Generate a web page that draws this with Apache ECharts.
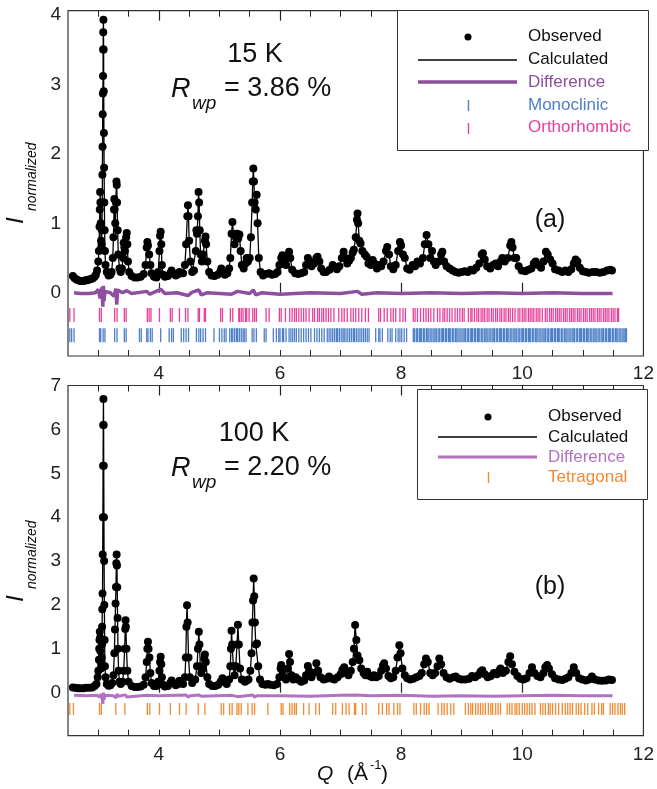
<!DOCTYPE html>
<html><head><meta charset="utf-8">
<script src="https://cdn.jsdelivr.net/npm/echarts@6/dist/echarts.min.js"></script>
<style>html,body{margin:0;padding:0;background:#fff}#c{width:657px;height:789px}</style>
</head><body><div id="c"></div>
<script>
// ---------- DATA ----------
const obs15 = [[2.58,0.24],[2.61,0.21],[2.64,0.19],[2.67,0.18],[2.70,0.17],[2.73,0.17],[2.76,0.17],[2.79,0.18],[2.82,0.18],[2.85,0.19],[2.88,0.2],[2.91,0.21],[2.94,0.23],[2.96,0.26],[2.98,0.32],[3.0,0.45],[3.01,0.6],[3.02,0.95],[3.025,1.2],[3.03,1.45],[3.035,1.3],[3.04,1.0],[3.045,0.75],[3.05,0.65],[3.055,0.7],[3.06,0.9],[3.065,1.3],[3.068,1.7],[3.07,2.1],[3.073,2.57],[3.076,2.87],[3.078,3.12],[3.08,3.5],[3.082,3.75],[3.085,3.93],[3.088,3.5],[3.09,2.9],[3.093,2.3],[3.096,1.8],[3.1,1.3],[3.105,0.9],[3.11,0.6],[3.12,0.4],[3.14,0.3],[3.17,0.25],[3.2,0.26],[3.22,0.3],[3.24,0.5],[3.25,0.8],[3.26,1.2],[3.265,1.35],[3.27,1.2],[3.28,1.0],[3.29,1.3],[3.3,1.6],[3.305,1.55],[3.31,1.3],[3.32,0.9],[3.33,0.55],[3.35,0.35],[3.37,0.3],[3.39,0.35],[3.41,0.5],[3.42,0.72],[3.43,0.65],[3.44,0.6],[3.46,0.8],[3.47,0.86],[3.48,0.7],[3.49,0.45],[3.51,0.3],[3.55,0.24],[3.6,0.22],[3.65,0.22],[3.7,0.23],[3.75,0.27],[3.78,0.4],[3.8,0.65],[3.81,0.73],[3.82,0.68],[3.84,0.55],[3.86,0.4],[3.88,0.28],[3.92,0.23],[3.96,0.22],[3.99,0.3],[4.01,0.6],[4.02,0.82],[4.03,0.88],[4.04,0.7],[4.05,0.4],[4.07,0.26],[4.1,0.23],[4.15,0.24],[4.19,0.28],[4.21,0.32],[4.23,0.28],[4.28,0.25],[4.32,0.27],[4.34,0.3],[4.36,0.28],[4.4,0.28],[4.43,0.4],[4.45,0.7],[4.47,1.1],[4.48,1.26],[4.49,1.1],[4.5,0.75],[4.52,0.45],[4.55,0.3],[4.58,0.32],[4.61,0.6],[4.62,0.9],[4.63,0.85],[4.645,1.1],[4.655,1.45],[4.665,1.3],[4.675,0.9],[4.69,0.55],[4.71,0.45],[4.73,0.55],[4.76,0.75],[4.77,0.81],[4.78,0.7],[4.8,0.45],[4.83,0.3],[4.87,0.25],[4.92,0.24],[4.97,0.26],[5.01,0.3],[5.03,0.35],[5.05,0.3],[5.09,0.26],[5.13,0.28],[5.16,0.35],[5.18,0.5],[5.2,0.85],[5.215,1.02],[5.23,0.85],[5.25,0.7],[5.27,0.8],[5.29,0.85],[5.31,0.78],[5.33,0.84],[5.35,0.6],[5.37,0.4],[5.4,0.35],[5.43,0.42],[5.45,0.5],[5.47,0.45],[5.5,0.5],[5.52,0.8],[5.54,1.3],[5.55,1.6],[5.56,1.79],[5.57,1.6],[5.58,1.3],[5.6,1.2],[5.615,1.41],[5.63,1.0],[5.65,0.5],[5.68,0.3],[5.72,0.25],[5.77,0.27],[5.82,0.28],[5.87,0.26],[5.92,0.27],[5.96,0.3],[5.99,0.4],[6.02,0.5],[6.04,0.54],[6.07,0.45],[6.1,0.4],[6.13,0.5],[6.15,0.59],[6.17,0.5],[6.2,0.33],[6.25,0.28],[6.3,0.27],[6.35,0.28],[6.4,0.3],[6.43,0.4],[6.46,0.5],[6.49,0.45],[6.52,0.38],[6.56,0.42],[6.6,0.5],[6.62,0.52],[6.65,0.45],[6.68,0.35],[6.72,0.3],[6.76,0.3],[6.82,0.33],[6.87,0.4],[6.9,0.37],[6.94,0.34],[6.98,0.38],[7.02,0.5],[7.05,0.59],[7.08,0.5],[7.11,0.42],[7.14,0.46],[7.17,0.5],[7.2,0.58],[7.22,0.62],[7.25,0.8],[7.27,1.05],[7.28,1.14],[7.29,1.0],[7.31,0.75],[7.33,0.71],[7.36,0.6],[7.4,0.55],[7.43,0.52],[7.46,0.42],[7.5,0.4],[7.53,0.47],[7.56,0.42],[7.6,0.35],[7.64,0.4],[7.67,0.38],[7.71,0.45],[7.75,0.6],[7.77,0.66],[7.8,0.55],[7.83,0.38],[7.87,0.34],[7.91,0.4],[7.95,0.6],[7.98,0.73],[8.0,0.68],[8.03,0.55],[8.06,0.5],[8.1,0.35],[8.14,0.33],[8.19,0.4],[8.23,0.38],[8.27,0.45],[8.31,0.42],[8.36,0.5],[8.39,0.7],[8.42,0.83],[8.45,0.7],[8.48,0.5],[8.51,0.6],[8.54,0.45],[8.57,0.4],[8.62,0.45],[8.66,0.55],[8.68,0.59],[8.71,0.45],[8.75,0.38],[8.8,0.35],[8.85,0.32],[8.9,0.3],[8.95,0.29],[9.0,0.3],[9.05,0.31],[9.1,0.3],[9.15,0.33],[9.19,0.32],[9.24,0.36],[9.29,0.42],[9.33,0.55],[9.35,0.57],[9.38,0.48],[9.42,0.38],[9.47,0.35],[9.52,0.4],[9.56,0.42],[9.6,0.38],[9.64,0.45],[9.67,0.5],[9.71,0.45],[9.76,0.5],[9.8,0.68],[9.82,0.73],[9.84,0.65],[9.87,0.5],[9.9,0.5],[9.94,0.38],[9.99,0.32],[10.05,0.31],[10.1,0.33],[10.15,0.35],[10.19,0.42],[10.22,0.45],[10.26,0.4],[10.31,0.36],[10.35,0.45],[10.39,0.59],[10.42,0.55],[10.46,0.48],[10.5,0.42],[10.54,0.34],[10.6,0.32],[10.66,0.3],[10.71,0.32],[10.76,0.3],[10.81,0.34],[10.85,0.42],[10.88,0.48],[10.91,0.45],[10.95,0.36],[11.0,0.31],[11.05,0.3],[11.1,0.29],[11.16,0.3],[11.22,0.3],[11.28,0.29],[11.34,0.3],[11.4,0.32],[11.45,0.33],[11.48,0.32]];
const calc15 = obs15;
const diff15 = [[2.6,0.0],[2.7,-0.01],[2.85,-0.01],[2.95,0.0],[3.0,0.05],[3.03,-0.08],[3.06,0.08],[3.075,-0.2],[3.085,0.1],[3.095,-0.12],[3.11,0.02],[3.2,0.0],[3.26,-0.05],[3.29,0.06],[3.305,-0.17],[3.32,0.04],[3.4,0.0],[3.47,0.03],[3.55,-0.01],[3.8,0.02],[3.85,-0.02],[4.03,0.05],[4.1,-0.01],[4.3,0.0],[4.48,-0.04],[4.55,0.01],[4.66,0.04],[4.7,-0.03],[4.8,0.0],[5.2,-0.02],[5.3,0.02],[5.5,-0.01],[5.56,0.04],[5.6,-0.03],[5.7,0.0],[6.0,-0.02],[6.5,0.0],[7.0,-0.01],[7.28,0.02],[7.35,-0.02],[7.6,0.0],[8.0,-0.01],[8.5,0.0],[9.0,-0.01],[9.5,0.0],[10.0,-0.01],[10.5,0.0],[11.0,-0.01],[11.49,-0.01]];
const orthorhombic15 = [2.53,2.60,3.02,3.05,3.27,3.31,3.43,3.46,3.81,3.84,3.87,4.01,4.19,4.22,4.34,4.44,4.48,4.65,4.67,4.75,4.77,5.02,5.05,5.18,5.22,5.32,5.33,5.36,5.39,5.43,5.45,5.49,5.55,5.58,5.61,5.77,5.82,5.99,6.02,6.09,6.16,6.20,6.24,6.27,6.31,6.35,6.39,6.43,6.48,6.54,6.57,6.62,6.65,6.69,6.72,6.76,6.80,6.84,6.89,6.97,7.02,7.06,7.11,7.17,7.21,7.25,7.30,7.35,7.41,7.46,7.63,7.66,7.72,7.77,7.83,7.87,7.91,7.98,8.03,8.07,8.20,8.23,8.27,8.32,8.37,8.41,8.45,8.49,8.54,8.60,8.64,8.69,8.72,8.76,8.80,8.84,8.89,8.93,8.97,9.01,9.04,9.11,9.15,9.17,9.21,9.25,9.28,9.32,9.35,9.38,9.42,9.45,9.49,9.52,9.56,9.59,9.63,9.66,9.70,9.73,9.77,9.80,9.84,9.88,9.93,9.96,10.00,10.03,10.06,10.10,10.13,10.16,10.19,10.23,10.26,10.29,10.33,10.38,10.41,10.45,10.48,10.51,10.55,10.58,10.61,10.64,10.68,10.71,10.74,10.78,10.81,10.84,10.87,10.91,10.94,10.97,11.01,11.04,11.07,11.11,11.14,11.17,11.20,11.24,11.27,11.30,11.34,11.37,11.40,11.43,11.47,11.50,11.53,11.57,11.59];
const monoclinic15 = [2.53,2.56,2.60,3.02,3.04,3.08,3.11,3.27,3.31,3.43,3.46,3.68,3.71,3.80,3.82,3.86,3.89,4.03,4.17,4.21,4.24,4.37,4.41,4.45,4.49,4.62,4.66,4.69,4.73,4.77,4.91,5.00,5.04,5.08,5.11,5.17,5.20,5.22,5.25,5.28,5.30,5.33,5.36,5.39,5.41,5.44,5.54,5.57,5.61,5.74,5.77,5.89,5.94,5.98,6.00,6.04,6.06,6.10,6.15,6.18,6.21,6.24,6.27,6.31,6.35,6.39,6.43,6.47,6.51,6.57,6.61,6.65,6.69,6.73,6.78,6.81,6.84,6.87,6.90,6.93,6.95,6.98,7.01,7.04,7.06,7.09,7.12,7.15,7.18,7.21,7.23,7.26,7.29,7.32,7.35,7.38,7.41,7.44,7.47,7.58,7.63,7.65,7.69,7.78,7.82,7.85,7.91,7.95,7.98,8.01,8.05,8.09,8.20,8.22,8.25,8.27,8.30,8.32,8.34,8.37,8.39,8.42,8.44,8.46,8.49,8.51,8.54,8.56,8.58,8.61,8.63,8.66,8.68,8.70,8.73,8.75,8.78,8.80,8.82,8.85,8.87,8.90,8.92,8.94,8.97,8.99,9.02,9.04,9.06,9.09,9.11,9.14,9.16,9.18,9.21,9.23,9.26,9.28,9.30,9.33,9.35,9.38,9.40,9.42,9.45,9.47,9.50,9.52,9.54,9.57,9.59,9.62,9.64,9.66,9.69,9.71,9.74,9.76,9.78,9.81,9.83,9.86,9.88,9.90,9.93,9.95,9.98,10.00,10.02,10.05,10.07,10.10,10.12,10.14,10.17,10.19,10.22,10.24,10.26,10.29,10.31,10.34,10.36,10.38,10.41,10.43,10.46,10.48,10.50,10.53,10.55,10.58,10.60,10.62,10.65,10.67,10.70,10.72,10.74,10.77,10.79,10.82,10.84,10.86,10.89,10.91,10.94,10.96,10.98,11.01,11.03,11.06,11.08,11.10,11.13,11.15,11.18,11.20,11.22,11.25,11.27,11.30,11.32,11.34,11.37,11.39,11.42,11.44,11.46,11.49,11.51,11.54,11.56,11.58,11.61,11.63,11.66,11.68,11.70,11.72];

const obs100 = [[2.58,0.12],[2.62,0.11],[2.66,0.1],[2.7,0.1],[2.75,0.1],[2.8,0.11],[2.85,0.11],[2.9,0.12],[2.94,0.15],[2.97,0.2],[2.99,0.35],[3.0,0.5],[3.01,0.75],[3.015,1.0],[3.02,1.2],[3.025,1.39],[3.03,1.25],[3.035,0.95],[3.04,0.7],[3.045,0.55],[3.05,0.6],[3.055,0.8],[3.06,1.1],[3.063,1.5],[3.066,1.9],[3.07,2.26],[3.073,3.15],[3.076,4.0],[3.079,5.17],[3.082,6.1],[3.085,6.69],[3.088,6.1],[3.09,5.17],[3.093,4.0],[3.096,3.0],[3.1,2.0],[3.105,1.2],[3.11,0.6],[3.12,0.35],[3.14,0.2],[3.17,0.16],[3.2,0.17],[3.23,0.22],[3.25,0.4],[3.265,0.9],[3.275,1.44],[3.285,2.03],[3.292,2.41],[3.298,2.95],[3.303,3.15],[3.308,2.9],[3.313,2.4],[3.318,1.7],[3.325,1.0],[3.335,0.5],[3.35,0.25],[3.37,0.2],[3.4,0.25],[3.42,0.5],[3.435,1.0],[3.445,1.45],[3.45,1.65],[3.455,1.5],[3.465,1.0],[3.48,0.5],[3.5,0.25],[3.55,0.15],[3.6,0.13],[3.65,0.13],[3.7,0.14],[3.75,0.18],[3.78,0.35],[3.8,0.7],[3.81,1.0],[3.82,1.16],[3.83,1.0],[3.845,0.8],[3.86,0.45],[3.88,0.22],[3.92,0.15],[3.96,0.15],[3.99,0.25],[4.01,0.5],[4.02,0.7],[4.03,0.82],[4.04,0.65],[4.05,0.35],[4.07,0.18],[4.1,0.14],[4.15,0.15],[4.19,0.22],[4.21,0.28],[4.23,0.22],[4.28,0.17],[4.32,0.2],[4.34,0.27],[4.36,0.22],[4.4,0.2],[4.43,0.35],[4.445,0.8],[4.455,1.5],[4.465,1.99],[4.475,1.6],[4.49,0.8],[4.51,0.35],[4.55,0.22],[4.6,0.3],[4.63,0.6],[4.645,1.0],[4.66,1.39],[4.67,1.1],[4.685,0.6],[4.7,0.45],[4.73,0.55],[4.75,0.78],[4.76,0.87],[4.775,0.7],[4.8,0.35],[4.83,0.2],[4.88,0.15],[4.93,0.15],[4.98,0.18],[5.02,0.25],[5.05,0.33],[5.08,0.25],[5.12,0.2],[5.16,0.3],[5.18,0.6],[5.19,1.0],[5.2,1.41],[5.21,1.1],[5.23,0.6],[5.25,0.4],[5.27,0.6],[5.29,1.1],[5.305,1.55],[5.32,1.1],[5.34,0.55],[5.37,0.3],[5.42,0.25],[5.45,0.28],[5.48,0.3],[5.51,0.5],[5.53,0.9],[5.545,1.6],[5.555,2.1],[5.565,2.6],[5.575,2.2],[5.585,1.6],[5.6,1.1],[5.62,1.12],[5.64,0.6],[5.67,0.3],[5.71,0.2],[5.76,0.18],[5.8,0.2],[5.84,0.18],[5.9,0.17],[5.95,0.2],[5.99,0.35],[6.01,0.55],[6.02,0.63],[6.04,0.5],[6.07,0.35],[6.1,0.3],[6.13,0.55],[6.15,0.88],[6.165,0.7],[6.19,0.4],[6.22,0.3],[6.26,0.35],[6.3,0.3],[6.35,0.25],[6.4,0.28],[6.43,0.4],[6.46,0.61],[6.48,0.5],[6.52,0.35],[6.56,0.45],[6.6,0.67],[6.63,0.5],[6.67,0.35],[6.72,0.3],[6.77,0.32],[6.81,0.37],[6.86,0.32],[6.9,0.3],[6.95,0.35],[7.0,0.42],[7.03,0.52],[7.06,0.58],[7.09,0.45],[7.13,0.4],[7.17,0.5],[7.2,0.7],[7.22,1.0],[7.24,1.54],[7.26,1.2],[7.28,0.85],[7.31,0.74],[7.34,0.55],[7.38,0.45],[7.41,0.4],[7.44,0.48],[7.48,0.38],[7.52,0.35],[7.55,0.4],[7.59,0.35],[7.63,0.38],[7.67,0.5],[7.7,0.62],[7.72,0.67],[7.75,0.55],[7.79,0.38],[7.83,0.33],[7.87,0.35],[7.91,0.5],[7.94,0.8],[7.97,1.08],[7.99,0.9],[8.02,0.55],[8.06,0.4],[8.1,0.33],[8.15,0.3],[8.2,0.32],[8.25,0.35],[8.3,0.38],[8.34,0.45],[8.38,0.65],[8.41,0.78],[8.44,0.7],[8.48,0.45],[8.52,0.4],[8.56,0.45],[8.6,0.6],[8.63,0.78],[8.66,0.65],[8.7,0.45],[8.75,0.35],[8.8,0.32],[8.86,0.35],[8.9,0.37],[8.95,0.32],[9.0,0.3],[9.06,0.3],[9.12,0.32],[9.17,0.38],[9.22,0.35],[9.27,0.4],[9.31,0.48],[9.34,0.51],[9.38,0.42],[9.43,0.35],[9.48,0.38],[9.53,0.45],[9.58,0.42],[9.62,0.5],[9.64,0.55],[9.68,0.45],[9.73,0.5],[9.77,0.7],[9.8,0.83],[9.83,0.65],[9.87,0.48],[9.92,0.38],[9.97,0.32],[10.02,0.3],[10.07,0.33],[10.12,0.45],[10.16,0.58],[10.2,0.45],[10.25,0.38],[10.3,0.35],[10.35,0.45],[10.38,0.58],[10.41,0.63],[10.44,0.55],[10.49,0.42],[10.54,0.33],[10.6,0.3],[10.66,0.29],[10.71,0.32],[10.76,0.35],[10.81,0.45],[10.85,0.58],[10.89,0.45],[10.94,0.33],[10.99,0.3],[11.05,0.28],[11.1,0.3],[11.15,0.37],[11.2,0.3],[11.26,0.28],[11.32,0.27],[11.38,0.28],[11.43,0.3],[11.48,0.29]];
const calc100 = obs100;
const diff100 = [[2.6,-0.06],[2.8,-0.07],[2.98,-0.06],[3.02,-0.1],[3.05,-0.03],[3.075,-0.25],[3.085,0.0],[3.095,-0.16],[3.11,-0.06],[3.25,-0.07],[3.29,-0.12],[3.31,-0.03],[3.33,-0.08],[3.45,-0.05],[3.47,-0.1],[3.5,-0.07],[3.8,-0.06],[3.83,-0.09],[4.0,-0.07],[4.45,-0.05],[4.48,-0.1],[4.52,-0.07],[4.66,-0.05],[4.7,-0.08],[5.2,-0.06],[5.3,-0.09],[5.55,-0.05],[5.58,-0.1],[5.62,-0.07],[6.0,-0.07],[6.5,-0.08],[7.0,-0.06],[7.25,-0.05],[7.5,-0.07],[8.0,-0.06],[8.5,-0.08],[9.0,-0.07],[9.5,-0.08],[10.0,-0.07],[10.5,-0.06],[11.0,-0.07],[11.49,-0.07]];
const tetragonal100 = [2.53,2.59,3.02,3.05,3.29,3.44,3.81,3.85,4.01,4.19,4.34,4.45,4.65,4.76,5.03,5.07,5.17,5.21,5.29,5.32,5.36,5.47,5.54,5.58,5.80,6.02,6.05,6.16,6.20,6.24,6.27,6.39,6.48,6.59,6.65,6.87,6.92,7.03,7.09,7.14,7.23,7.25,7.36,7.42,7.63,7.69,7.76,7.80,7.88,7.94,7.98,8.21,8.25,8.32,8.38,8.42,8.46,8.61,8.67,8.71,8.76,8.82,8.87,9.06,9.11,9.15,9.18,9.23,9.27,9.31,9.35,9.39,9.44,9.48,9.51,9.56,9.60,9.64,9.75,9.79,9.83,9.88,9.91,9.95,10.00,10.04,10.08,10.12,10.16,10.21,10.30,10.34,10.38,10.43,10.46,10.50,10.55,10.60,10.66,10.71,10.75,10.79,10.83,10.89,10.93,10.97,11.03,11.08,11.15,11.19,11.26,11.31,11.34,11.45,11.49,11.53,11.58,11.62,11.65,11.69];

const xMajorTicks = [4,6,8,10];
const xTickLabels = [4,6,8,10,12];
const xMinorTicks = [3,3.5,4,4.5,5,5.5,6,6.5,7,7.5,8,8.5,9,9.5,10,10.5,11,11.5];
const yLabels15 = [0,1,2,3,4];
const yLabels100 = [0,1,2,3,4,5,6,7];

// ---------- CHART ----------
const FONT = '"Liberation Sans", Arial, Helvetica, sans-serif';
const C = {
  pink:'#e8409a', blue:'#4d7fc7', purple:'#8e4f9f', purple2:'#b272c0', orange:'#f28a32'
};
const chart = echarts.init(document.getElementById('c'), null, {renderer:'canvas'});

function xAxes(g, labelMargin){
  const base = {gridIndex:g, type:'value', min:2.5, max:12, splitLine:{show:false},
    axisLine:{show:false}};
  return [
    Object.assign({}, base, {position:'bottom',
      axisTick:{show:true, inside:true, length:10, customValues:xMajorTicks, lineStyle:{color:'#222',width:1.2}},
      axisLabel:{show:true, customValues:xTickLabels, fontSize:19, color:'#222', fontFamily:FONT, margin:labelMargin}}),
    Object.assign({}, base, {position:'bottom',
      axisTick:{show:true, inside:true, length:6, customValues:xMinorTicks, lineStyle:{color:'#222',width:1}},
      axisLabel:{show:false}}),
    Object.assign({}, base, {position:'top',
      axisTick:{show:true, inside:true, length:10, customValues:xMajorTicks, lineStyle:{color:'#222',width:1.2}},
      axisLabel:{show:false}}),
    Object.assign({}, base, {position:'top',
      axisTick:{show:true, inside:true, length:6, customValues:xMinorTicks, lineStyle:{color:'#222',width:1}},
      axisLabel:{show:false}})
  ];
}
function yAxis(g, min, max, labels){
  return {gridIndex:g, type:'value', min:min, max:max, splitLine:{show:false},
    axisLine:{show:false}, axisTick:{show:false},
    axisLabel:{customValues:labels, fontSize:19, color:'#222', fontFamily:FONT, margin:7}};
}
function sticks(arr, y){ return arr.map(q => [q, y]); }

function txt(x, y, text, o){
  o = o || {};
  return {type:'text', x:x, y:y, z:100, rotation:o.rot||0,
    style:{text:text, fill:o.color||'#111', fontSize:o.size||17, fontFamily:FONT,
      fontStyle:o.italic?'italic':'normal', align:o.align||'left', verticalAlign:o.va||'middle'}};
}
function ln(x1,y1,x2,y2,color,w){
  return {type:'line', z:100, shape:{x1:x1,y1:y1,x2:x2,y2:y2}, style:{stroke:color, lineWidth:w}};
}

const graphics = [
  txt(255, 55, '15 K', {size:27, align:'center'}),
  txt(171, 89, 'R', {size:27, italic:true}),
  txt(192, 104, 'wp', {size:19, italic:true}),
  txt(224, 89, '= 3.86 %', {size:27}),
  txt(550, 220, '(a)', {size:25, align:'center'}),
  txt(254, 434, '100 K', {size:27, align:'center'}),
  txt(171, 468, 'R', {size:27, italic:true}),
  txt(192, 483, 'wp', {size:19, italic:true}),
  txt(224, 468, '= 2.20 %', {size:27}),
  txt(550, 587, '(b)', {size:25, align:'center'}),
  txt(16.5, 224, 'I', {size:24, italic:true, rot:Math.PI/2}),
  txt(32, 211, 'normalized', {size:14, italic:true, rot:Math.PI/2}),
  txt(16.5, 602, 'I', {size:24, italic:true, rot:Math.PI/2}),
  txt(32, 589, 'normalized', {size:14, italic:true, rot:Math.PI/2}),
  txt(317, 774, 'Q', {size:21, italic:true}),
  txt(347, 774, '(Å', {size:21}),
  txt(370, 765, '-1', {size:13}),
  txt(381, 774, ')', {size:21}),
  {type:'rect', z:99, shape:{x:397.5, y:10.5, width:251, height:140}, style:{fill:'#fff', stroke:'#333', lineWidth:1}},
  {type:'circle', z:100, shape:{cx:468, cy:37, r:3.5}, style:{fill:'#000'}},
  txt(528, 36, 'Observed'),
  ln(418, 60, 517, 60, '#000', 1.3),
  txt(528, 59, 'Calculated'),
  ln(418, 82, 517, 82, C.purple, 3.5),
  txt(528, 82, 'Difference', {color:C.purple}),
  ln(468.5, 100, 468.5, 111, C.blue, 1.4),
  txt(528, 105, 'Monoclinic', {color:C.blue}),
  ln(468.5, 123, 468.5, 134, C.pink, 1.4),
  txt(528, 127, 'Orthorhombic', {color:C.pink}),
  {type:'rect', z:99, shape:{x:417.5, y:389.5, width:230, height:110}, style:{fill:'#fff', stroke:'#333', lineWidth:1}},
  {type:'circle', z:100, shape:{cx:488, cy:417, r:3.5}, style:{fill:'#000'}},
  txt(548, 416, 'Observed'),
  ln(438, 437, 537, 437, '#000', 1.3),
  txt(548, 437, 'Calculated'),
  ln(438, 457, 537, 457, C.purple2, 3),
  txt(548, 457, 'Difference', {color:C.purple2}),
  ln(488.5, 472, 488.5, 483, C.orange, 1.4),
  txt(548, 477, 'Tetragonal', {color:C.orange})
];

const dot = {symbolSize:8, itemStyle:{color:'#000', opacity:1}};
const stick = (color, h) => ({symbol:'rect', symbolSize:[1.3, h], itemStyle:{color:color, opacity:1}});

const option = {
  animation:false,
  backgroundColor:'#fff',
  grid:[
    {left:68, top:10.7, width:577, height:345.3, show:true, borderColor:'#333', borderWidth:1.2},
    {left:68, top:385.5, width:577, height:350.2, show:true, borderColor:'#333', borderWidth:1.2}
  ],
  xAxis:[].concat(xAxes(0, 8), xAxes(1, 10)),
  yAxis:[yAxis(0, -0.91, 4.06, yLabels15), yAxis(1, -0.98, 7, yLabels100)],
  series:[
    {name:'Calculated', type:'line', xAxisIndex:0, yAxisIndex:0, data:calc15, symbol:'none',
      lineStyle:{color:'#000', width:1.3}, z:3},
    Object.assign({name:'Observed', type:'scatter', xAxisIndex:0, yAxisIndex:0, data:obs15, z:4}, dot),
    {name:'Difference', type:'line', xAxisIndex:0, yAxisIndex:0, data:diff15, symbol:'none',
      lineStyle:{color:C.purple, width:3.5}, z:3},
    Object.assign({name:'Orthorhombic', type:'scatter', xAxisIndex:0, yAxisIndex:0, data:sticks(orthorhombic15, -0.32), z:2}, stick(C.pink, 14)),
    Object.assign({name:'Monoclinic', type:'scatter', xAxisIndex:0, yAxisIndex:0, data:sticks(monoclinic15, -0.61), z:2}, stick(C.blue, 14)),

    {name:'Calculated 100K', type:'line', xAxisIndex:4, yAxisIndex:1, data:calc100, symbol:'none',
      lineStyle:{color:'#000', width:1.3}, z:3},
    Object.assign({name:'Observed 100K', type:'scatter', xAxisIndex:4, yAxisIndex:1, data:obs100, z:4}, dot),
    {name:'Difference 100K', type:'line', xAxisIndex:4, yAxisIndex:1, data:diff100, symbol:'none',
      lineStyle:{color:C.purple2, width:3}, z:3},
    Object.assign({name:'Tetragonal', type:'scatter', xAxisIndex:4, yAxisIndex:1, data:sticks(tetragonal100, -0.37), z:2}, stick(C.orange, 12))
  ],
  graphic:{elements:graphics}
};
chart.setOption(option);
</script>
</body></html>
